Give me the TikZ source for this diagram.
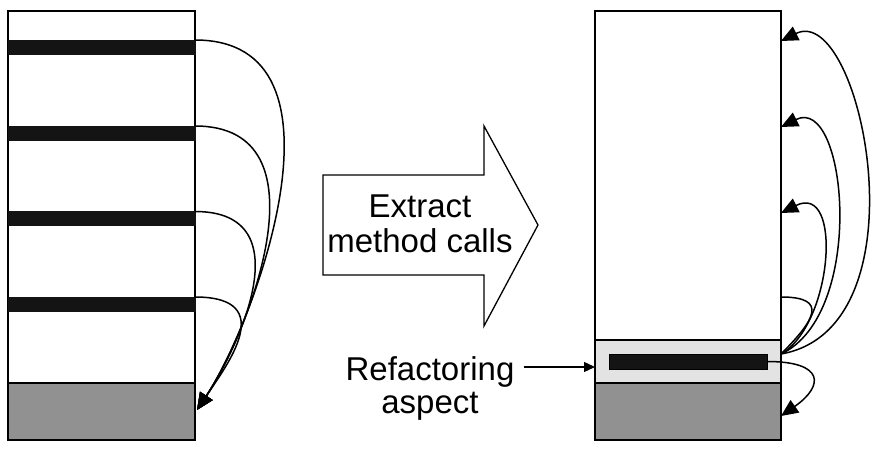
\documentclass[tikz,border=0pt]{standalone}
\usepackage{fontspec}
\setmainfont{Liberation Sans}
\usetikzlibrary{arrows.meta,positioning}

\definecolor{aspectgray}{gray}{0.57}
\definecolor{bandgray}{gray}{0.89}
\definecolor{callblack}{gray}{0.08}

\tikzset{
  block/.style={draw, line width=1.4bp, inner sep=0pt, outer sep=0pt},
  callbar/.style={draw=callblack, fill=callblack, inner sep=0pt, outer sep=0pt},
  link/.style={line width=1.5bp, -{Triangle[length=17bp,width=15bp]}},
  smalllink/.style={line width=1.3bp, -{Triangle[length=11bp,width=10bp]}},
  label/.style={align=center, inner sep=0pt}
}

\begin{document}
\begin{tikzpicture}[x=1bp,y=-1bp]
        \useasboundingbox (0,0) rectangle (876,460);

        % class before refactoring
        \node[block, minimum width=187bp, minimum height=429bp] (oldcls) at (101.5,225.5) {};
        \node[block, fill=aspectgray, minimum width=187bp, minimum height=57bp, anchor=south] (oldbase) at (oldcls.south) {};
        \foreach \y [count=\i] in {47,133,218.5,304}
            \node[callbar, minimum width=187bp, minimum height=14bp] (bar\i) at (101.5,\y) {};
        \coordinate (oldtip) at (197,410);
        \foreach \i/\a/\b in {1/165/105, 2/135/95, 3/110/72, 4/85/52}
            \draw[link] (bar\i.north east) .. controls +(\a,0) and +({0.55*\b},{-0.83*\b}) .. (oldtip);

        % big arrow
        \draw[line width=1.3bp] (323,175) -- (484,175) -- (484,126) -- (538,225)
            -- (484,326) -- (484,275) -- (323,275) -- cycle;
        \node[label, font=\fontsize{33bp}{35bp}\selectfont] (extract) at (420,224) {Extract\\method calls};

        % class after refactoring
        \node[block, minimum width=186bp, minimum height=429bp] (newcls) at (688,225.5) {};
        \node[block, fill=aspectgray, minimum width=186bp, minimum height=57bp, anchor=south] (newbase) at (newcls.south) {};
        \node[block, fill=bandgray, minimum width=186bp, minimum height=43bp, anchor=south] (band) at (newbase.north) {};
        \node[callbar, draw=black, line width=0.8bp, minimum width=158bp, minimum height=15bp] (aspectbar) at (688,361.5) {};

        \coordinate (src) at (781,354);
        \coordinate (t1) at (781,41);
        \coordinate (t2) at (781,127);
        \coordinate (t3) at (781,213);
        \coordinate (t4) at (781,297);
        \coordinate (t5) at (781,416);
        \draw[link] (src) .. controls +(148,-26) and +(80,-40) .. (t1);
        \draw[link] (src) .. controls +(86,-40) and +(66,-33) .. (t2);
        \draw[link] (src) .. controls +(52,-30) and +(62,-31) .. (t3);
        \draw[line width=1.5bp] (t4) .. controls +(48,0) and +(34,-34) .. (src);
        \draw[link] (aspectbar.east) .. controls +(58,0) and +(43,-30) .. (t5);

        % refactoring aspect
        \node[label, font=\fontsize{33bp}{33bp}\selectfont] (refac) at (430,388) {Refactoring\\aspect};
        \coordinate (refin) at (595,367);
        \draw[smalllink] ([xshift=9bp]refac.east |- refin) -- (refin);
\end{tikzpicture}
\end{document}
